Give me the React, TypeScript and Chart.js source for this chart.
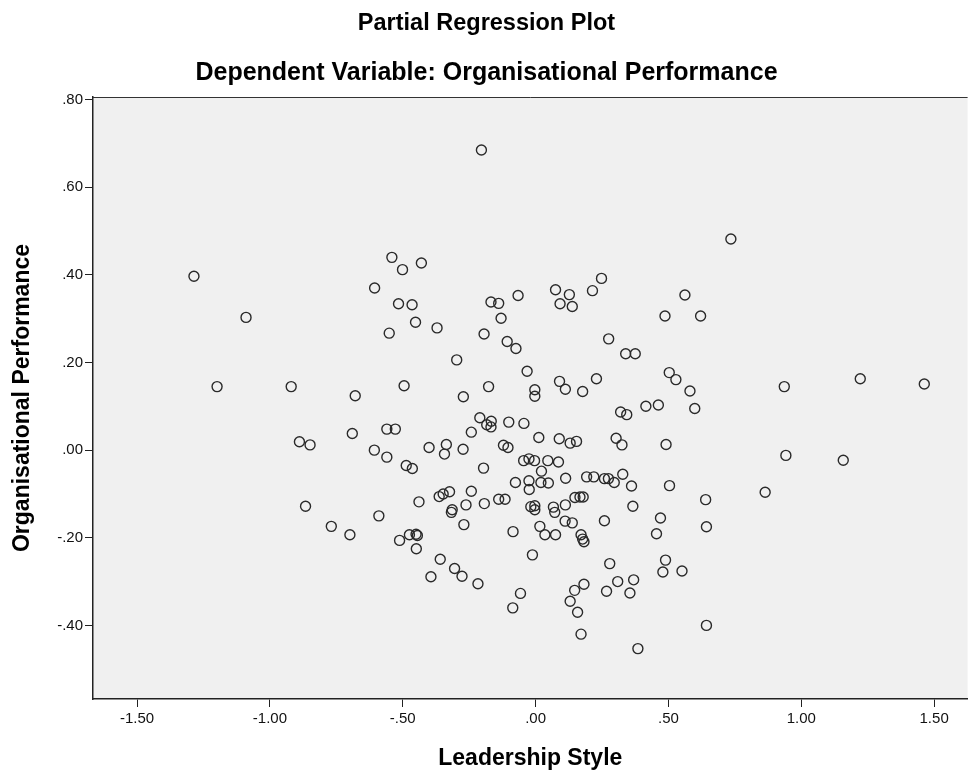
import React, { useEffect, useRef } from "react";
import { Chart, registerables } from "chart.js";

Chart.register(...registerables);

// Leadership Style (x) and Organisational Performance (y), paired by index
const leadershipStyle: number[] = [
  -1.286, -1.090, -1.199, -0.920,
  -0.204, -0.541, -0.501, -0.430, -0.606, -0.516, -0.465, -0.452, -0.551, -0.371,
  -0.168, -0.139, -0.066, -0.130, -0.194, -0.107, -0.074, -0.032, -0.297, -0.495,
  -0.679, -0.272, -0.177,
  0.735, 0.075, 0.127, 0.092, 0.138, 0.214, 0.248, 0.562, 0.487, 0.621, 0.275,
  0.339, 0.375, 0.090, 0.112, 0.177, 0.229, 0.503, 0.528, 0.581, -0.003, -0.003,
  0.415, 0.462, 0.599,
  0.936, 1.222, 1.463,
  0.942, 1.158, 0.864,
  -0.889, -0.849, -0.866, -0.769,
  -0.690, -0.560, -0.528, -0.607, -0.560, -0.487, -0.464, -0.401, -0.336, -0.343,
  -0.273, -0.242, -0.210, -0.184, -0.167, -0.168, -0.101, -0.044, -0.121, -0.104,
  -0.045, -0.025, -0.196, -0.076, -0.025, -0.024, -0.018, -0.439, -0.363, -0.348,
  -0.324, -0.242, -0.314, -0.317, -0.262, -0.193, -0.139, -0.115, -0.270, -0.590,
  -0.699, -0.512, -0.475, -0.450, -0.445, -0.449, -0.359, -0.394, -0.305, -0.277,
  -0.217, -0.085, -0.057, -0.086, -0.012,
  0.320, 0.343, 0.012, 0.089, 0.130, 0.154, 0.303, 0.325, 0.491, -0.004,
  0.046, 0.086, 0.022, 0.020, 0.048, 0.113, 0.192, 0.219, 0.259, 0.274,
  0.296, 0.328, 0.361, 0.504, 0.640, 0.148, 0.167, 0.179, -0.003, -0.003,
  0.067, 0.072, 0.112, 0.366, 0.111, 0.138, 0.259, 0.470, 0.643, 0.016,
  0.035, 0.075, 0.171, 0.177, 0.182, 0.455, 0.279, 0.489, 0.479, 0.551,
  0.182, 0.147, 0.130, 0.158, 0.171, 0.267, 0.309, 0.369, 0.355, 0.643, 0.385,
];

const organisationalPerformance: number[] = [
  0.397, 0.303, 0.145, 0.145,
  0.685, 0.440, 0.412, 0.427, 0.370, 0.334, 0.332, 0.292, 0.267, 0.279,
  0.338, 0.335, 0.353, 0.301, 0.265, 0.248, 0.232, 0.180, 0.206, 0.147,
  0.124, 0.122, 0.145,
  0.482, 0.366, 0.355, 0.334, 0.328, 0.364, 0.392, 0.354, 0.306, 0.306, 0.254,
  0.220, 0.220, 0.157, 0.139, 0.134, 0.163, 0.177, 0.161, 0.135, 0.138, 0.123,
  0.100, 0.103, 0.095,
  0.145, 0.163, 0.151,
  -0.012, -0.023, -0.096,
  0.019, 0.012, -0.128, -0.174,
  0.038, 0.048, 0.048, 0.000, -0.016, -0.035, -0.042, 0.006, 0.013, -0.009,
  0.002, 0.041, 0.074, 0.058, 0.066, 0.053, 0.064, 0.061, 0.011, 0.006,
  -0.024, -0.020, -0.041, -0.074, -0.070, -0.090, -0.129, -0.118, -0.106, -0.100,
  -0.095, -0.094, -0.136, -0.142, -0.125, -0.122, -0.112, -0.112, -0.170, -0.150,
  -0.193, -0.206, -0.193, -0.192, -0.195, -0.225, -0.249, -0.289, -0.270, -0.288,
  -0.305, -0.186, -0.327, -0.360, -0.239,
  0.087, 0.081, 0.029, 0.026, 0.016, 0.020, 0.027, 0.012, 0.013, -0.024,
  -0.024, -0.027, -0.048, -0.074, -0.075, -0.064, -0.061, -0.061, -0.065, -0.065,
  -0.074, -0.055, -0.082, -0.081, -0.113, -0.108, -0.107, -0.107, -0.127, -0.136,
  -0.130, -0.142, -0.125, -0.128, -0.162, -0.166, -0.161, -0.155, -0.175, -0.174,
  -0.193, -0.193, -0.193, -0.203, -0.209, -0.191, -0.259, -0.251, -0.278, -0.276,
  -0.306, -0.320, -0.345, -0.370, -0.420, -0.322, -0.300, -0.296, -0.326, -0.400, -0.453,
];

const xTickValues: number[] = [-1.5, -1.0, -0.5, 0, 0.5, 1.0, 1.5];
const yTickValues: number[] = [-0.4, -0.2, 0, 0.2, 0.4, 0.6, 0.8];

const chartTitle = "Partial Regression Plot";
const chartSubtitle = "Dependent Variable: Organisational Performance";
const xAxisTitle = "Leadership Style";
const yAxisTitle = "Organisational Performance";

const FONT = "'Liberation Sans', Arial, Helvetica, sans-serif";

function spssLabel(v: number): string {
  const s = Math.abs(v) < 1e-9 ? "0.00" : v.toFixed(2);
  return s.replace(/^(-?)0\./, "$1.");
}

const plotFramePlugin = {
  id: "plotFrame",
  beforeDraw(chart: any) {
    const { ctx, chartArea } = chart;
    ctx.save();
    ctx.fillStyle = "#f0f0f0";
    ctx.fillRect(chartArea.left, chartArea.top, chartArea.right - chartArea.left, chartArea.bottom - chartArea.top);
    ctx.restore();
  },
  afterDraw(chart: any) {
    const { ctx, chartArea } = chart;
    ctx.save();
    ctx.strokeStyle = "#333";
    ctx.lineWidth = 1;
    ctx.beginPath();
    ctx.moveTo(chartArea.left, chartArea.top + 0.5);
    ctx.lineTo(chartArea.right, chartArea.top + 0.5);
    ctx.stroke();
    ctx.restore();
  },
};

export default function App() {
  const canvasRef = useRef<HTMLCanvasElement | null>(null);

  useEffect(() => {
    if (!canvasRef.current) return;
    const points = leadershipStyle.map((x, i) => ({ x, y: organisationalPerformance[i] }));
    const chart = new Chart(canvasRef.current, {
      type: "scatter",
      data: {
        datasets: [
          {
            label: yAxisTitle,
            data: points,
            pointStyle: "circle",
            pointRadius: 5,
            pointBorderWidth: 1.4,
            pointBorderColor: "#2a2a2a",
            pointBackgroundColor: "rgba(0,0,0,0)",
          },
        ],
      },
      options: {
        animation: false,
        responsive: true,
        maintainAspectRatio: false,
        layout: { padding: { left: 0, right: 1, top: 0, bottom: 0 } },
        plugins: {
          legend: { display: false },
          tooltip: { enabled: false },
          title: {
            display: true,
            text: chartTitle,
            color: "#000",
            font: { family: FONT, size: 23.5, weight: "bold" },
            padding: { top: 9.4, bottom: 20.9 },
          },
          subtitle: {
            display: true,
            text: chartSubtitle,
            color: "#000",
            font: { family: FONT, size: 25, weight: "bold" },
            padding: { top: 0, bottom: 8.5 },
          },
        },
        scales: {
          x: {
            type: "linear",
            min: -1.666,
            max: 1.626,
            afterBuildTicks: (scale: any) => {
              scale.ticks = xTickValues.map((v) => ({ value: v }));
            },
            afterFit: (scale: any) => {
              scale.height = 77;
              scale.paddingLeft = 0;
              scale.paddingRight = 0;
            },
            ticks: {
              color: "#111",
              font: { family: FONT, size: 15 },
              padding: 3,
              maxRotation: 0,
              autoSkip: false,
              callback: (v: any) => spssLabel(Number(v)),
            },
            grid: {
              drawOnChartArea: false,
              drawTicks: true,
              tickLength: 8,
              color: "#222",
            },
            border: { display: true, color: "#222", width: 1.5 },
            title: {
              display: true,
              text: xAxisTitle,
              color: "#000",
              font: { family: FONT, size: 23, weight: "bold" },
              padding: { top: 0, bottom: 4 },
            },
          },
          y: {
            type: "linear",
            min: -0.568,
            max: 0.806,
            afterBuildTicks: (scale: any) => {
              scale.ticks = yTickValues.map((v) => ({ value: v }));
            },
            afterFit: (scale: any) => {
              scale.width = 93;
              scale.paddingTop = 0;
              scale.paddingBottom = 0;
            },
            ticks: {
              color: "#111",
              font: { family: FONT, size: 15 },
              padding: 2,
              autoSkip: false,
              callback: (v: any) => spssLabel(Number(v)),
            },
            grid: {
              drawOnChartArea: false,
              drawTicks: true,
              tickLength: 8,
              color: "#222",
            },
            border: { display: true, color: "#222", width: 1.5 },
            title: {
              display: true,
              text: yAxisTitle,
              color: "#000",
              font: { family: FONT, size: 23, weight: "bold" },
              padding: { top: 9, bottom: 0 },
            },
          },
        },
      },
      plugins: [plotFramePlugin],
    });
    return () => chart.destroy();
  }, []);

  return (
    <div
      style={{
        position: "fixed",
        left: 0,
        top: 0,
        width: 974,
        height: 776,
        background: "#fff",
      }}
    >
      <canvas ref={canvasRef} />
    </div>
  );
}
